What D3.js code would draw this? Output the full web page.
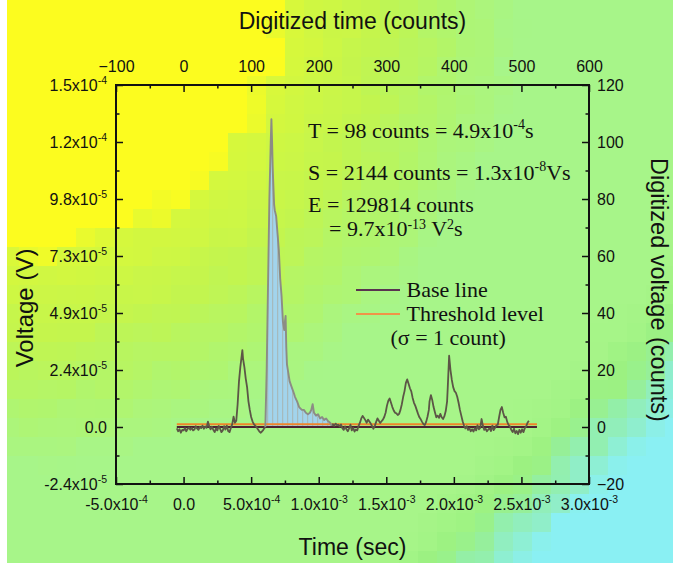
<!DOCTYPE html>
<html><head><meta charset="utf-8">
<script src="https://cdn.jsdelivr.net/npm/d3@7"></script>
<style>
html,body{margin:0;padding:0;background:#fff;}
svg{display:block;}
</style></head><body>
<svg id="chart" width="673" height="566"></svg>
<script>
// ---- data (x in digitized time counts, y in digitized voltage counts) ----
const preCounts = [-10,-8,-6,-4,-2,0,2,4,6,8,10,12,14,16,18,20,22,24,26,28,30,32,34,36,38,40,42,44,46,48,50,52,54,56,58,60,62,64,66,68,70,72,74,76,78,80,82,84,86,87,88,90,92,94,96,98,100,102,104,106,108,110,112,114,116,118,120,121];
const preValues = [-0.5,-1.5,-0.8,-2,-1,-1.2,-0.4,-1.5,-0.6,-0.2,-1,-0.3,-1.2,-0.9,0.3,-0.5,-1,0,-0.4,0.5,-0.6,0.2,-0.3,1.9,0.2,-0.8,0.1,-1,-1.8,-0.5,-1.2,0.4,-0.6,-1.8,-1.2,0.3,-0.9,0.5,-1.4,-1.8,-0.3,1,3.6,1.5,2.2,8,16,21,25,27,24,21,17,14,9,6,3.5,2,1,0.5,0,-0.8,-1.5,-2,-1.6,-1,-0.3,0];

const pulseCounts = [121,123,125,127,129,130,131,132,133,134,135,137,139,141,143,145,147,149,150,151,152,153,155,157,160,163,165,168,171,175,178,181,184,187,189,191,193,196,199,202,205,208,211,214,217,219];
const pulseValues = [0,20,50,80,100,108,100,90,84,78,76,74,68,62,52,46,37,34,37,39,28,22,19,16,14,12,10.5,9,7,6,6,5,4.5,5,6,8,5,4,4.5,3,3.5,2.5,3,2,1.5,0.5];

const postCounts = [219,221,223,225,227,229,231,233,235,237,239,241,243,245,247,249,251,253,255,257,259,261,263,265,267,269,271,273,275,277,279,281,283,285,287,289,291,293,295,297,299,301,303,305,307,309,311,313,315,317,319,321,323,325,327,329,331,333,335,337,339,341,343,345,347,349,351,353,355,357,359,361,363,364,366,368,370,372,374,376,378,380,382,384,386,388,390,391,393,395,397,399,401,403,405,407,409,411,413,415,417,419,421,423,425,427,429,431,433,435,437,439,441,443,445,447,449,451,453,455,457,459,461,463,465,467,469,471,473,475,477,479,481,483,485,487,489,491,493,495,497,499,501,503,505,507,509,511];
const postValues = [0.5,1,0.4,1.2,0.6,0.8,0.2,0.9,-0.4,-1,0.2,-0.8,-1.5,-0.5,0.8,-1.2,-0.3,-1.6,-0.9,-1.2,0.4,1.5,3,3.9,3.2,2.4,1.5,2.6,1.9,1.2,0.3,-0.6,0.4,1.8,3,2.2,1.4,2,2.6,3.5,5,7.5,9.2,10,8.5,7,5.8,5,4.8,4.2,4.6,6,8,10.6,12.6,15.5,16.7,15.2,13.6,12.5,10.2,8.5,7.4,6,4.6,3.4,2.7,1.8,1,0.7,1.8,3.6,6,9,11.2,9.5,7,5.2,3.4,4,3.2,4.6,3.4,2.8,3.8,5.6,9,14,25,20,16.5,14,12.6,12,10.6,8.5,6,4,2,0.5,-0.5,0.3,-1,-0.4,-1.5,-0.8,-1.6,-0.4,-1.2,0.6,-0.8,-0.3,2.8,0.4,-1,-0.6,-1.5,-0.9,-0.4,-1.4,0.5,-1.1,-0.3,0.6,0.8,3.5,6,7,5,3.4,3.6,1.8,0.7,0.2,-1,-1.8,-0.6,-2.2,-1.4,-2.5,-1,-2,-0.8,-1.8,-0.4,0.2,1.5,2.2];

const baseLevel = 0;          // counts
const thresholdLevel = 1;     // counts (sigma = 1 count)
const levelSpan = [-10, 523]; // counts

// ---- axis ticks ----
const countTicks = [-100,0,100,200,300,400,500,600];
const countMinorTicks = [-50,50,150,250,350,450,550];
const timeTicks = [-5e-4,0,5e-4,1e-3,1.5e-3,2e-3,2.5e-3,3e-3];
const timeMinorTicks = [-2.5e-4,2.5e-4,7.5e-4,1.25e-3,1.75e-3,2.25e-3,2.75e-3];
const timeTickMantissa = ["-5.0x10","0.0","5.0x10","1.0x10","1.5x10","2.0x10","2.5x10","3.0x10"];
const timeTickExponent = ["-4","","-4","-3","-3","-3","-3","-3"];
const voltCountTicks = [-20,0,20,40,60,80,100,120];
const voltCountMinorTicks = [-10,10,30,50,70,90,110];
const voltTickMantissa = ["-2.4x10","0.0","2.4x10","4.9x10","7.3x10","9.8x10","1.2x10","1.5x10"];
const voltTickExponent = ["-5","","-5","-5","-5","-5","-4","-4"];

const svg = d3.select("#chart");
const W = 673, H = 566;
const plot = {left:116, right:589, top:85, bottom:484};

// ---- blocky gradient backdrop: yellow corner, green field, cyan corner ----
const warm = d3.scaleLinear()
  .domain([276, 294, 380, 450, 520])
  .range(["#fcfc1f", "#d6f83c", "#c2f54f", "#b1f56c", "#a7f589"])
  .interpolate(d3.interpolateRgb).clamp(true);
const cool = d3.scaleLinear()
  .domain([650, 705, 745, 772])
  .range([0, 0.45, 0.8, 1]).clamp(true);
const coolTint = d3.scaleLinear().domain([0, 0.45, 0.8, 1])
  .range(["#a7f589", "#98f07e", "#90eec6", "#8af0f3"]).interpolate(d3.interpolateRgb);
const cell = 19;
const bg = svg.append("g");
for (let gy = 0; gy * cell < H; gy++) {
  for (let gx = 0; gx * cell < W; gx++) {
    const cx = gx * cell + cell / 2, cy = gy * cell + cell / 2;
    const h = Math.abs(Math.sin(gx * 12.9898 + gy * 78.233) * 43758.5453) % 1;
    const r = Math.hypot(cx, 1.12 * cy) + (h - 0.5) * 20;
    const s = 0.715 * cx + 0.7 * cy + (h - 0.5) * 16;
    const k = cool(s);
    const c = k > 0 ? d3.interpolateRgb(warm(r), coolTint(k))(Math.min(1, k * 1.6)) : warm(r);
    bg.append("rect").attr("x", gx*cell).attr("y", gy*cell)
      .attr("width", cell + 0.5).attr("height", cell + 0.5)
      .attr("fill", c);
  }
}
svg.append("rect").attr("x",0).attr("y",0).attr("width",7).attr("height",H).attr("fill","#fff");
svg.append("rect").attr("x",0).attr("y",H-3).attr("width",W).attr("height",3).attr("fill","#fff");

// ---- scales ----
const x = d3.scaleLinear().domain([-100, 600]).range([plot.left, plot.right]);
const xTime = d3.scaleLinear().domain([-5e-4, 3e-3]).range([plot.left, plot.right]);
const y = d3.scaleLinear().domain([-20, 120]).range([plot.bottom, plot.top]);

const sans = "'Liberation Sans', Arial, sans-serif";
const serif = "'Liberation Serif', 'Times New Roman', serif";

// ---- pulse fill ----
const area = d3.area().x((d,i)=>x(pulseCounts[i])).y0(y(baseLevel)).y1(d=>y(d));
svg.append("path").datum(pulseValues).attr("d", area).attr("fill", "#a2d4ec");

const hatch = d3.range(pulseCounts[0] + 3.5, pulseCounts[pulseCounts.length-1] - 2, 7.4);
const interp = c => {
  const i = Math.max(1, d3.bisectLeft(pulseCounts, c));
  const c0 = pulseCounts[i-1], c1 = pulseCounts[i];
  const t = (c - c0) / (c1 - c0);
  return pulseValues[i-1] + t * (pulseValues[i] - pulseValues[i-1]);
};
svg.append("g").selectAll("line").data(hatch).join("line")
  .attr("x1", d=>x(d)).attr("x2", d=>x(d))
  .attr("y1", y(baseLevel)).attr("y2", d=>y(interp(d)))
  .attr("stroke", "#a6b4b2").attr("stroke-width", 1);

// ---- levels ----
svg.append("line").attr("x1", x(levelSpan[0])).attr("x2", x(levelSpan[1]))
  .attr("y1", y(baseLevel)).attr("y2", y(baseLevel))
  .attr("stroke", "#4a2233").attr("stroke-width", 2);
svg.append("line").attr("x1", x(levelSpan[0])).attr("x2", x(levelSpan[1]))
  .attr("y1", y(thresholdLevel)).attr("y2", y(thresholdLevel))
  .attr("stroke", "#f0862a").attr("stroke-width", 2);

// ---- signal trace ----
const line = d3.line().x(d=>x(d[0])).y(d=>y(d[1]));
svg.append("path").datum(d3.zip(preCounts, preValues)).attr("d", line)
  .attr("fill","none").attr("stroke","#5c5646").attr("stroke-width",1.8).attr("stroke-linejoin","round");
svg.append("path").datum(d3.zip(postCounts, postValues)).attr("d", line)
  .attr("fill","none").attr("stroke","#5c5646").attr("stroke-width",1.8).attr("stroke-linejoin","round");
svg.append("path").datum(d3.zip(pulseCounts, pulseValues)).attr("d", line)
  .attr("fill","none").attr("stroke","#8c8c85").attr("stroke-width",1.9).attr("stroke-linejoin","round");

// ---- axes ----
function supLabels(g, mant, expo, supDy) {
  g.selectAll(".tick text").each(function(d, i) {
    const t = d3.select(this).text("");
    t.append("tspan").text(mant[i]);
    if (expo[i]) {
      t.append("tspan").attr("font-size", 10.5).attr("dy", supDy).text(expo[i]);
    }
  });
}
function styleAxis(g) {
  g.select(".domain").remove();
  g.selectAll(".tick line").attr("stroke", "#111").attr("stroke-width", 1.5);
  g.selectAll(".tick text").attr("fill", "#111").attr("font-family", sans).attr("font-size", 16);
}

const gBottom = svg.append("g").attr("transform", `translate(0,${plot.bottom})`)
  .call(d3.axisBottom(xTime).tickValues(timeTicks).tickSizeInner(-7).tickSizeOuter(0).tickPadding(15));
styleAxis(gBottom); supLabels(gBottom, timeTickMantissa, timeTickExponent, -7);
const gBottomMinor = svg.append("g").attr("transform", `translate(0,${plot.bottom})`)
  .call(d3.axisBottom(xTime).tickValues(timeMinorTicks).tickSizeInner(-3.5).tickSizeOuter(0).tickFormat(""));
styleAxis(gBottomMinor);

const gTop = svg.append("g").attr("transform", `translate(0,${plot.top})`)
  .call(d3.axisTop(x).tickValues(countTicks).tickSizeInner(-7).tickSizeOuter(0).tickPadding(13).tickFormat(d3.format("d")));
styleAxis(gTop);
const gTopMinor = svg.append("g").attr("transform", `translate(0,${plot.top})`)
  .call(d3.axisTop(x).tickValues(countMinorTicks).tickSizeInner(-3.5).tickSizeOuter(0).tickFormat(""));
styleAxis(gTopMinor);

const gLeft = svg.append("g").attr("transform", `translate(${plot.left},0)`)
  .call(d3.axisLeft(y).tickValues(voltCountTicks).tickSizeInner(-7).tickSizeOuter(0).tickPadding(9));
styleAxis(gLeft); supLabels(gLeft, voltTickMantissa, voltTickExponent, -7);
const gLeftMinor = svg.append("g").attr("transform", `translate(${plot.left},0)`)
  .call(d3.axisLeft(y).tickValues(voltCountMinorTicks).tickSizeInner(-3.5).tickSizeOuter(0).tickFormat(""));
styleAxis(gLeftMinor);

const gRight = svg.append("g").attr("transform", `translate(${plot.right},0)`)
  .call(d3.axisRight(y).tickValues(voltCountTicks).tickSizeInner(-7).tickSizeOuter(0).tickPadding(8).tickFormat(d3.format("d")));
styleAxis(gRight);
const gRightMinor = svg.append("g").attr("transform", `translate(${plot.right},0)`)
  .call(d3.axisRight(y).tickValues(voltCountMinorTicks).tickSizeInner(-3.5).tickSizeOuter(0).tickFormat(""));
styleAxis(gRightMinor);

svg.append("rect").attr("x", plot.left).attr("y", plot.top)
  .attr("width", plot.right - plot.left).attr("height", plot.bottom - plot.top)
  .attr("fill", "none").attr("stroke", "#111").attr("stroke-width", 2);

// ---- axis titles ----
svg.append("text").attr("x", (plot.left+plot.right)/2).attr("y", 29).attr("text-anchor","middle")
  .attr("font-family", sans).attr("font-size", 23).attr("fill","#111").text("Digitized time (counts)");
svg.append("text").attr("x", (plot.left+plot.right)/2).attr("y", 555).attr("text-anchor","middle")
  .attr("font-family", sans).attr("font-size", 23).attr("fill","#111").text("Time (sec)");
svg.append("text").attr("transform","translate(33,308) rotate(-90)").attr("text-anchor","middle")
  .attr("font-family", sans).attr("font-size", 24).attr("fill","#111").text("Voltage (V)");
svg.append("text").attr("transform","translate(651,290) rotate(90)").attr("text-anchor","middle")
  .attr("font-family", sans).attr("font-size", 23.5).attr("fill","#111").text("Digitized voltage (counts)");

// ---- annotations ----
function richText(xp, yp, parts, supRise) {
  const rise = supRise || 8.5;
  const t = svg.append("text").attr("x", xp).attr("y", yp)
    .attr("font-family", serif).attr("font-size", 22).attr("fill", "#111");
  let raised = 0;
  parts.forEach(p => {
    const sp = t.append("tspan").text(p.t);
    if (p.sup && !raised) { sp.attr("font-size", 14).attr("dy", -rise); raised = 1; }
    else if (!p.sup && raised) { sp.attr("dy", rise); raised = 0; }
  });
}
richText(308, 137.5, [{t:"T = 98 counts = 4.9x10"},{t:"-4",sup:1},{t:"s"}]);
richText(308, 179.5, [{t:"S = 2144 counts = 1.3x10"},{t:"-8",sup:1},{t:"Vs"}]);
richText(308, 211.5, [{t:"E = 129814 counts"}]);
richText(329, 235.5, [{t:"= 9.7x10"},{t:"-13",sup:1},{t:" V"},{t:"2",sup:1},{t:"s"}], 7);

// ---- legend ----
svg.append("line").attr("x1",356).attr("x2",400).attr("y1",290).attr("y2",290)
  .attr("stroke","#5a3350").attr("stroke-width",2);
svg.append("line").attr("x1",356).attr("x2",400).attr("y1",314).attr("y2",314)
  .attr("stroke","#f09448").attr("stroke-width",2);
richText(406.5, 297, [{t:"Base line"}]);
richText(406.5, 321, [{t:"Threshold level"}]);
richText(390.5, 345, [{t:"(\u03c3 = 1 count)"}]);
</script></body></html>
